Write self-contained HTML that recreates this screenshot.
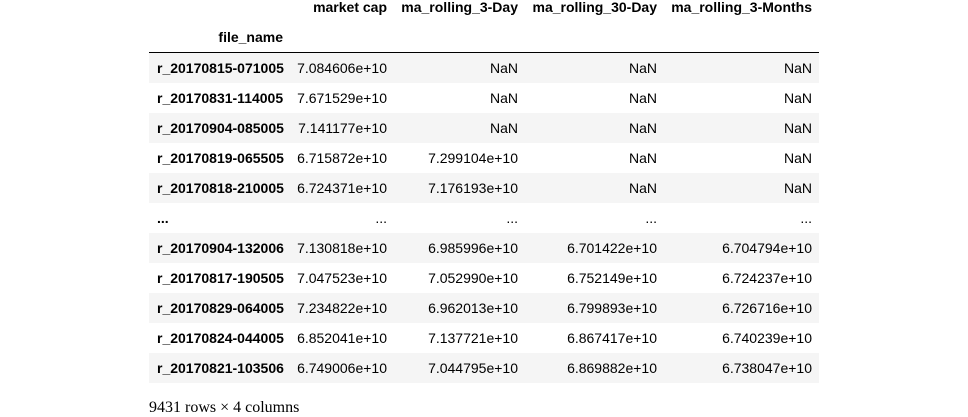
<!DOCTYPE html>
<html><head><meta charset="utf-8"><style>
body{margin:0;width:968px;height:414px;background:#fff;font-family:"Liberation Sans",Arial,sans-serif;font-size:14px;color:#000;position:relative;overflow:hidden}
.c{position:absolute;white-space:nowrap;line-height:16px}
.b{font-weight:bold}
.r{text-align:right}
.row{position:absolute;left:149px;width:670px;height:30px}
.sh{background:#f5f5f5}
</style></head><body>
<div id="t"></div>
<div class="c" style="left:149px;top:399px;font-family:'Liberation Serif',serif;font-size:16px;line-height:18px">9431 rows × 4 columns</div>
<script>
const cols=["market cap","ma_rolling_3-Day","ma_rolling_30-Day","ma_rolling_3-Months"];
const idx=["r_20170815-071005","r_20170831-114005","r_20170904-085005","r_20170819-065505","r_20170818-210005","...","r_20170904-132006","r_20170817-190505","r_20170829-064005","r_20170824-044005","r_20170821-103506"];
const mcap=["7.084606e+10","7.671529e+10","7.141177e+10","6.715872e+10","6.724371e+10","...","7.130818e+10","7.047523e+10","7.234822e+10","6.852041e+10","6.749006e+10"];
const d3=["NaN","NaN","NaN","7.299104e+10","7.176193e+10","...","6.985996e+10","7.052990e+10","6.962013e+10","7.137721e+10","7.044795e+10"];
const d30=["NaN","NaN","NaN","NaN","NaN","...","6.701422e+10","6.752149e+10","6.799893e+10","6.867417e+10","6.869882e+10"];
const m3=["NaN","NaN","NaN","NaN","NaN","...","6.704794e+10","6.724237e+10","6.726716e+10","6.740239e+10","6.738047e+10"];
const series=[mcap,d3,d30,m3];
const rights=[387,518,657,812];
const t=document.getElementById('t');
function cell(txt,x,y,cls,right){const e=document.createElement('div');e.className='c '+cls;e.textContent=txt;
if(right){e.style.right=(968-x)+'px';}else{e.style.left=x+'px';}e.style.top=y+'px';document.body.appendChild(e);return e;}
cols.forEach((c,i)=>{const e=cell(c,rights[i],-1,'b',true);

});
const fn=cell('file_name',283,29,'b',true);


const line=document.createElement('div');line.style.cssText='position:absolute;left:149px;top:52px;width:670px;height:1px;background:#000';


document.body.appendChild(line);
idx.forEach((n,r)=>{const y=53+30*r;
const row=document.createElement('div');row.className='row'+(r%2==0?' sh':'');row.style.top=y+'px';


document.body.appendChild(row);
const ic=cell(n,157,y+7,'b',false);


series.forEach((s,i)=>{const e=cell(s[r],rights[i],y+7,'',true);

});
});
</script>
</body></html>
